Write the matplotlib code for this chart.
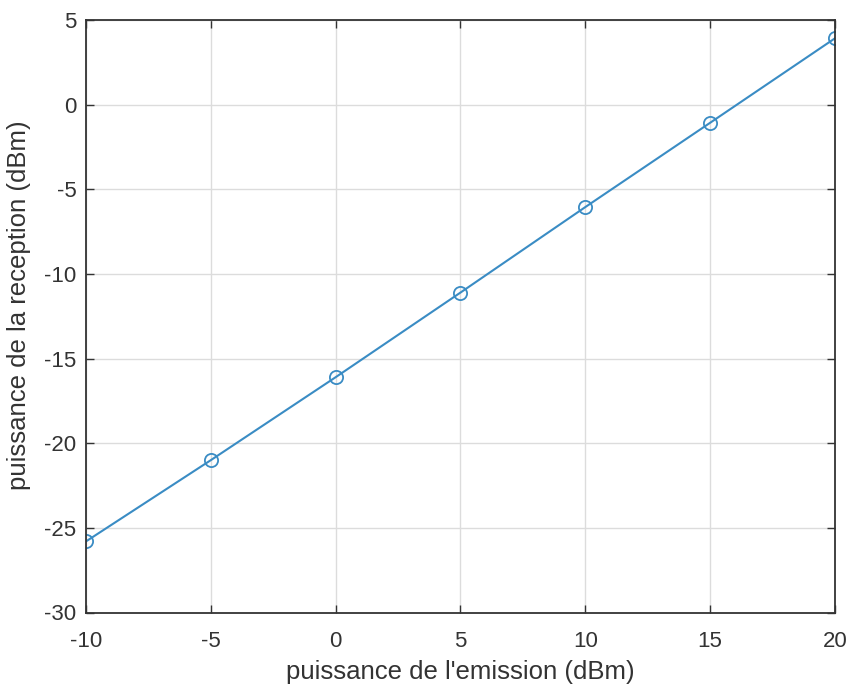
import matplotlib
matplotlib.use("Agg")
import matplotlib.pyplot as plt

emission = [-10, -5, 0, 5, 10, 15, 20]
reception = [-25.8, -21.0, -16.1, -11.1, -6.05, -1.07, 3.92]
xticks = [-10, -5, 0, 5, 10, 15, 20]
yticks = [-30, -25, -20, -15, -10, -5, 0, 5]

plt.rcParams['font.family'] = ['Liberation Sans', 'DejaVu Sans']
plt.rcParams['axes.unicode_minus'] = False

fig = plt.figure(figsize=(8.5, 6.85), dpi=100)
ax = fig.add_axes([86/850, 1 - 612.5/685, (835-86)/850, (612.5-20)/685])

ax.plot(emission, reception, color='#3A8CC4', linewidth=1.5, marker='o',
        markersize=9.5, markerfacecolor='none', markeredgecolor='#3A8CC4',
        markeredgewidth=1.3)

ax.set_xlim(-10, 20)
ax.set_ylim(-30, 5)
ax.set_xticks(xticks)
ax.set_yticks(yticks)
ax.grid(True, color='#dcdcdc', linewidth=1.0)
ax.set_axisbelow(True)
for s in ax.spines.values():
    s.set_color('#333333')
    s.set_linewidth(1.3)
ax.tick_params(direction='in', length=6, width=1.0, colors='#333333',
               labelsize=16, labelcolor='#333333', top=True, right=True)
ax.tick_params(axis='x', pad=13.5)
ax.tick_params(axis='y', pad=7)
ax.set_xlabel("puissance de l'emission (dBm)", fontsize=18.5, color='#333333')
ax.set_ylabel("puissance de la reception (dBm)", fontsize=18.5, color='#333333')
ax.yaxis.set_label_coords(-0.074, 0.519)
ax.xaxis.set_label_coords(0.5, -0.08)

fig.savefig('out.png', dpi=100)
